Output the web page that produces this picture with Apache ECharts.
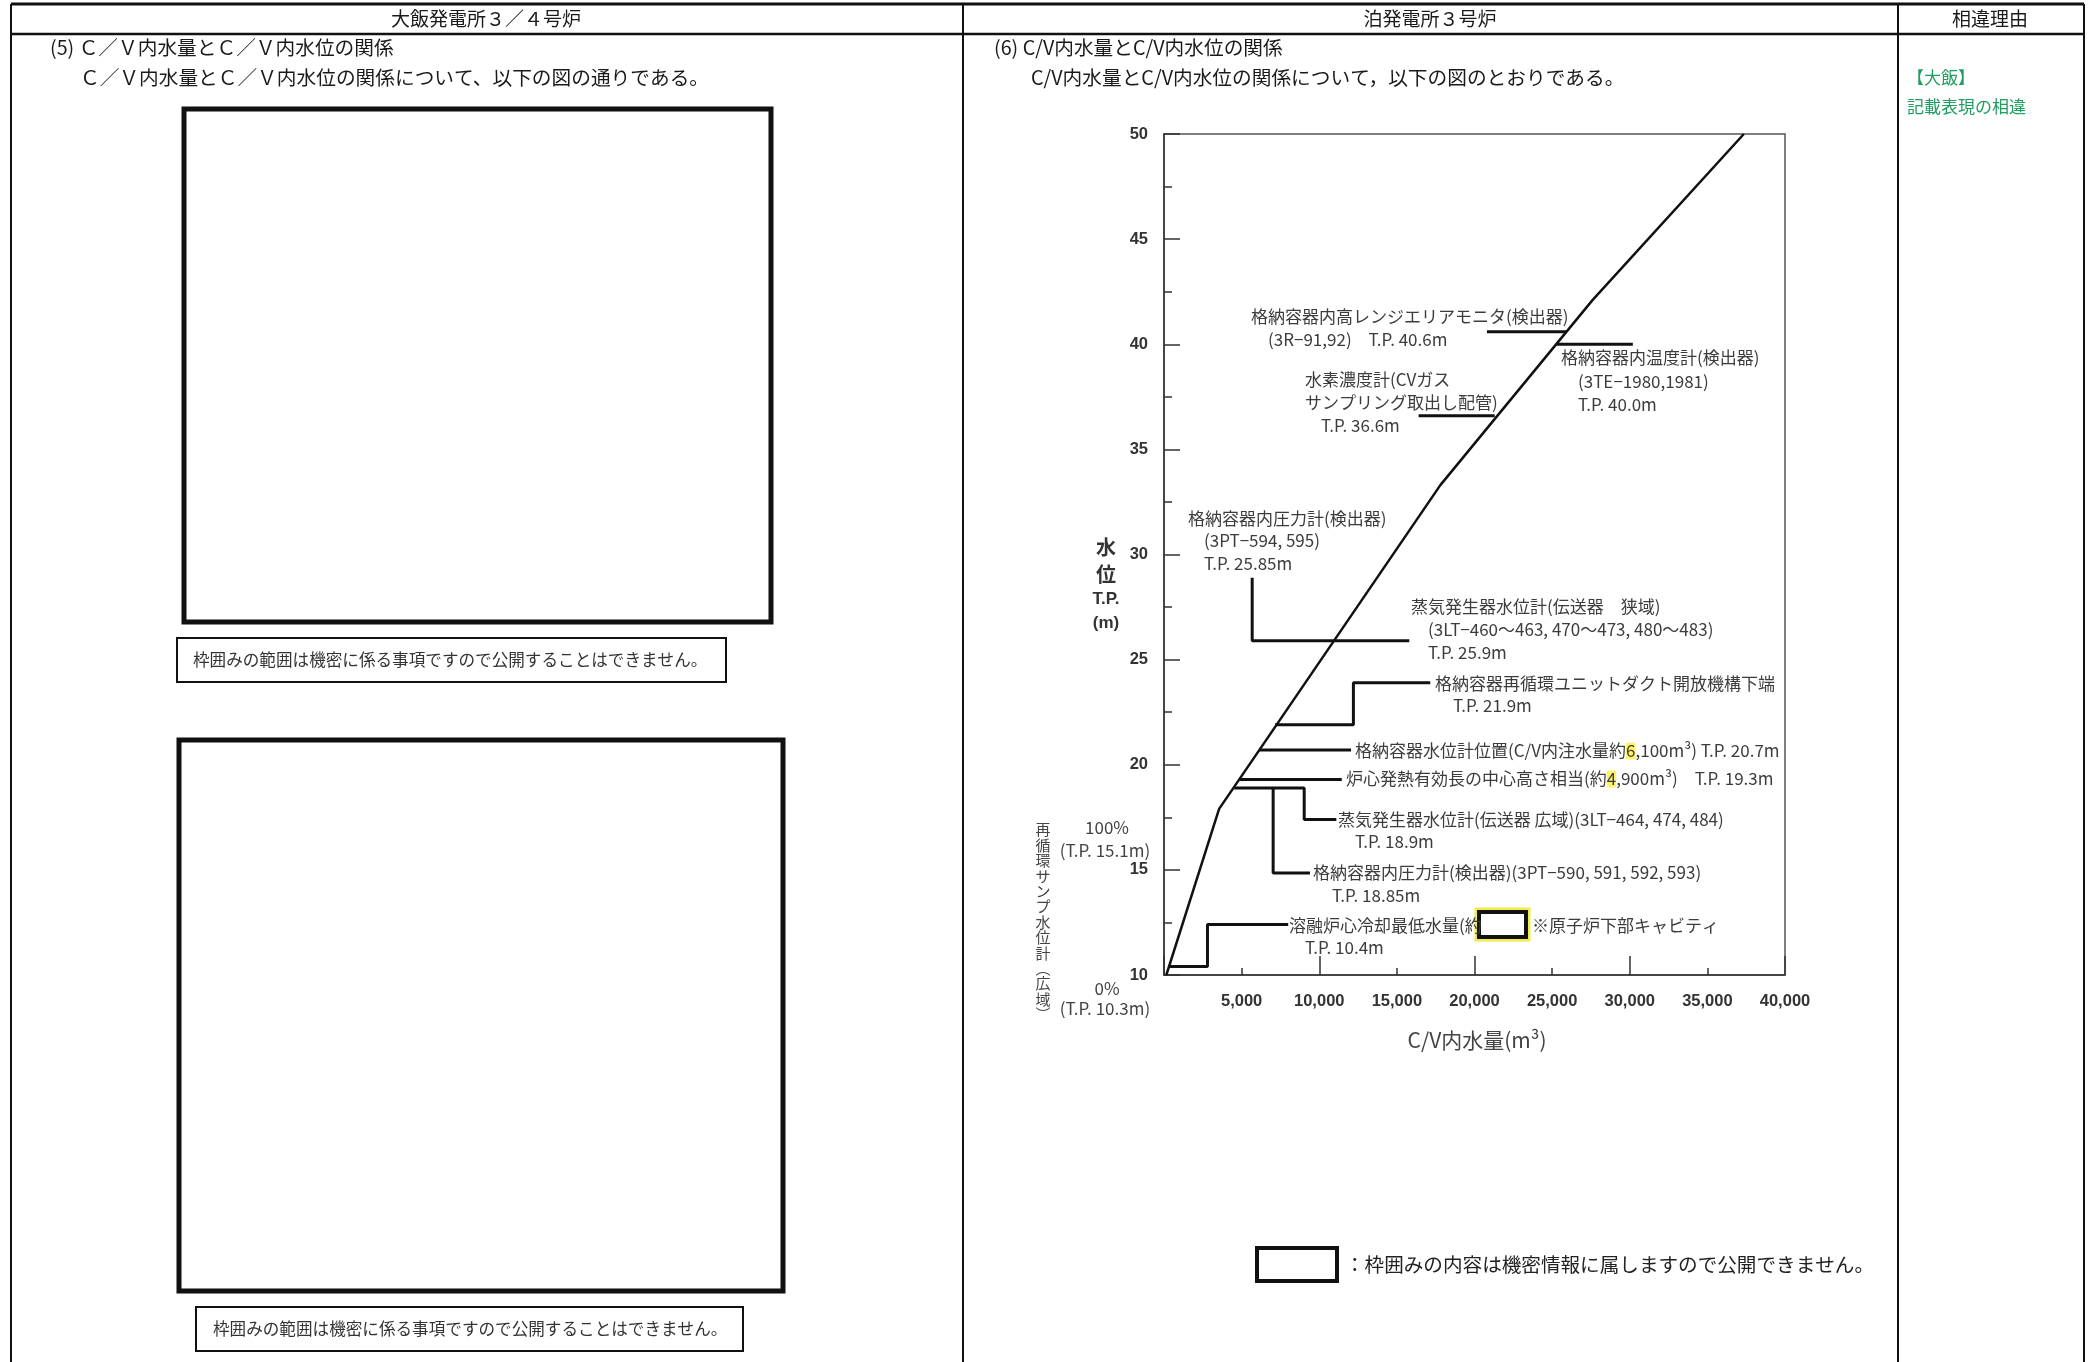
<!DOCTYPE html>
<html>
<head>
<meta charset="utf-8">
<script src="https://cdn.jsdelivr.net/npm/echarts@6/dist/echarts.min.js"></script>
<style>
  html, body { margin: 0; padding: 0; background: #fff; }
</style>
</head>
<body>
<div id="chart" style="width: 2092px; height: 1362px;"></div>
<script>
// C/V内水量(m3) と C/V内水位(T.P. m) の関係
const curveVolume = [150, 3550, 17800, 27600, 37350]
const curveLevel = [10, 17.9, 33.3, 42.1, 50]

// 計器位置を示す引出し線 [水量, 水位]
const leaderHighRange = [[20800, 40.6], [25900, 40.6]]
const leaderTemp = [[25300, 40.0], [30200, 40.0]]
const leaderHydrogen = [[16400, 36.6], [21300, 36.6]]
const leaderSgNarrow = [[5680, 28.9], [5680, 25.9], [15800, 25.9]]
const leaderDuct = [[7160, 21.9], [12200, 21.9], [12200, 23.9], [17150, 23.9]]
const leaderCvLevel = [[6130, 20.7], [12050, 20.7]]
const leaderCoreCenter = [[4850, 19.3], [11450, 19.3]]
const leaderSgWide = [[4520, 18.9], [9030, 18.9], [9030, 17.4], [11100, 17.4]]
const leaderPressure = [[7030, 18.9], [7030, 14.85], [9400, 14.85]]
const leaderMeltCore = [[300, 10.4], [2800, 10.4], [2800, 12.4], [8000, 12.4]]

// 再循環サンプ水位計(広域) 0%〜100%
const sumpRange = [[-4000, 15.1], [-4000, 10.3]]
const sumpTop = [[-5000, 15.1], [-3000, 15.1]]
const sumpBottom = [[-5000, 10.3], [-3000, 10.3]]

const xTickStep = 5000
const yTickStep = 5

const JP = '"Noto Sans CJK JP"'
const annoColor = '#3c3c3c'
const green = '#1f9e5f'

function txt (x, y, text, size, opts) {
  opts = opts || {}
  return {
    type: 'text',
    x: x,
    y: y,
    silent: true,
    style: {
      text: text,
      fill: opts.fill || '#1a1a1a',
      font: (opts.weight || 'normal') + ' ' + size + 'px ' + (opts.family || JP),
      textAlign: opts.align || 'left',
      textVerticalAlign: 'middle',
      lineHeight: opts.lineHeight,
      rich: opts.rich
    }
  }
}
function hline (x1, y1, x2, y2, w) {
  return { type: 'line', silent: true, shape: { x1: x1, y1: y1, x2: x2, y2: y2 }, style: { stroke: '#111', lineWidth: w } }
}
function box (x, y, w, h, lw, stroke) {
  return { type: 'rect', silent: true, shape: { x: x, y: y, width: w, height: h }, style: { fill: '#fff', stroke: stroke || '#111', lineWidth: lw } }
}

const hl = { h: { backgroundColor: '#fff36b', fontSize: 17, fontFamily: 'Noto Sans CJK JP', color: annoColor } }

const annotations = [
  [1251, 317, '格納容器内高レンジエリアモニタ(検出器)'],
  [1268, 340, '(3R−91,92)　T.P. 40.6m'],
  [1561, 358, '格納容器内温度計(検出器)'],
  [1578, 382, '(3TE−1980,1981)'],
  [1578, 405, 'T.P. 40.0m'],
  [1305, 380, '水素濃度計(CVガス'],
  [1305, 403, 'サンプリング取出し配管)'],
  [1321, 426, 'T.P. 36.6m'],
  [1188, 519, '格納容器内圧力計(検出器)'],
  [1204, 541, '(3PT−594, 595)'],
  [1204, 564, 'T.P. 25.85m'],
  [1411, 607, '蒸気発生器水位計(伝送器　狭域)'],
  [1428, 630, '(3LT−460〜463, 470〜473, 480〜483)'],
  [1428, 653, 'T.P. 25.9m'],
  [1435, 684, '格納容器再循環ユニットダクト開放機構下端'],
  [1453, 706, 'T.P. 21.9m'],
  [1355, 751, '格納容器水位計位置(C/V内注水量約{h|6},100m³) T.P. 20.7m'],
  [1346, 779, '炉心発熱有効長の中心高さ相当(約{h|4},900m³)　T.P. 19.3m'],
  [1338, 820, '蒸気発生器水位計(伝送器 広域)(3LT−464, 474, 484)'],
  [1355, 842, 'T.P. 18.9m'],
  [1313, 873, '格納容器内圧力計(検出器)(3PT−590, 591, 592, 593)'],
  [1332, 896, 'T.P. 18.85m'],
  [1289, 926, '溶融炉心冷却最低水量(約'],
  [1532, 926, '※原子炉下部キャビティ'],
  [1305, 948, 'T.P. 10.4m']
]

const richGreen = { g: { color: green, fontSize: 19.7, fontFamily: 'Noto Sans CJK JP' } }

const graphics = [
  // 表の罫線
  hline(11, 4, 2084, 4, 3),
  hline(11, 34, 2084, 34, 2.5),
  hline(11, 4, 11, 1362, 2),
  hline(963, 4, 963, 1362, 2),
  hline(1898, 4, 1898, 1362, 2),
  hline(2084, 4, 2084, 1362, 2),
  txt(486, 19, '大飯発電所３／４号炉', 19, { align: 'center' }),
  txt(1430, 19, '泊発電所３号炉', 19, { align: 'center' }),
  txt(1990, 19, '相違理由', 19, { align: 'center' }),
  txt(50, 48, '(5) Ｃ／Ｖ内水量とＣ／Ｖ内水位の関係', 19.7),
  txt(80, 78, 'Ｃ／Ｖ内水量とＣ／Ｖ内水位の関係について、以下の図の{g|通り}である。', 19.7, { rich: richGreen }),
  txt(994, 48, '(6) C/V内水量とC/V内水位の関係', 19.7),
  txt(1031, 78, 'C/V内水量とC/V内水位の関係について，以下の図の{g|とおり}である。', 19.7, { rich: richGreen }),
  txt(1907, 78, '【大飯】', 17, { fill: green }),
  txt(1907, 107, '記載表現の相違', 17, { fill: green }),
  // 大飯側の枠囲み
  box(184, 109, 587, 513, 5),
  box(177, 638, 549, 44, 2),
  txt(193, 660, '枠囲みの範囲は機密に係る事項ですので公開することはできません。', 16.6, { fill: '#333' }),
  box(179, 740, 604, 551, 5),
  box(196, 1307, 547, 44, 2),
  txt(213, 1329, '枠囲みの範囲は機密に係る事項ですので公開することはできません。', 16.6, { fill: '#333' }),
  // 軸名
  txt(1106, 547, '水', 20, { align: 'center', weight: 'bold', fill: '#333' }),
  txt(1106, 574, '位', 20, { align: 'center', weight: 'bold', fill: '#333' }),
  txt(1106, 599, 'T.P.', 17, { align: 'center', weight: 'bold', fill: '#333', family: '"Liberation Sans"' }),
  txt(1106, 623, '(m)', 17, { align: 'center', weight: 'bold', fill: '#333', family: '"Liberation Sans"' }),
  txt(1477, 1040, 'C/V内水量(m³)', 21, { align: 'center', fill: '#444' }),
  // 再循環サンプ水位計
  txt(1043, 922, '再\n循\n環\nサ\nン\nプ\n水\n位\n計\n︵\n広\n域\n︶', 15, { align: 'center', fill: '#444', lineHeight: 15.4 }),
  txt(1107, 828, '100%', 17, { align: 'center', fill: '#444' }),
  txt(1105, 851, '(T.P. 15.1m)', 17, { align: 'center', fill: '#444' }),
  txt(1107, 989, '0%', 17, { align: 'center', fill: '#444' }),
  txt(1105, 1009, '(T.P. 10.3m)', 17, { align: 'center', fill: '#444' }),
  // 機密の枠
  box(1476, 909, 53, 31, 3, '#f2ec4a'),
  box(1479, 912, 47, 25, 4),
  box(1257, 1248, 80, 33, 4),
  txt(1345, 1265, '：枠囲みの内容は機密情報に属しますので公開できません。', 19.6, { fill: '#222' })
]

annotations.forEach(function (a) {
  graphics.push(txt(a[0], a[1], a[2], 17, { fill: annoColor, rich: hl }))
})

function leader (data, extra) {
  return Object.assign({
    type: 'line',
    data: data,
    symbol: 'none',
    silent: true,
    lineStyle: { color: '#111', width: 3 }
  }, extra || {})
}

const myChart = echarts.init(document.getElementById('chart'))
myChart.setOption({
  animation: false,
  backgroundColor: '#fff',
  grid: {
    left: 1164,
    top: 134,
    width: 621,
    height: 841,
    show: true,
    borderColor: '#555',
    borderWidth: 1.5,
    containLabel: false
  },
  xAxis: [
    {
      type: 'value',
      min: 0,
      max: 40000,
      interval: xTickStep,
      position: 'bottom',
      axisLine: { show: true, lineStyle: { color: '#333', width: 1.5 } },
      axisTick: { show: true, inside: true, length: 7, lineStyle: { color: '#333', width: 1.5 } },
      axisLabel: {
        margin: 18,
        color: '#333',
        fontSize: 16.5,
        fontWeight: 'bold',
        fontFamily: 'Liberation Sans',
        formatter: function (v) { return v === 0 ? '' : v.toLocaleString('en-US') }
      },
      splitLine: { show: false }
    },
    {
      type: 'value',
      min: 0,
      max: 40000,
      interval: xTickStep * 2,
      position: 'bottom',
      axisLine: { show: false },
      axisTick: { show: true, inside: true, length: 19, lineStyle: { color: '#333', width: 1.5 } },
      axisLabel: { show: false },
      splitLine: { show: false }
    }
  ],
  yAxis: {
    type: 'value',
    min: 10,
    max: 50,
    interval: yTickStep,
    axisLine: { show: true, lineStyle: { color: '#333', width: 1.5 } },
    axisTick: { show: true, inside: true, length: 16, lineStyle: { color: '#333', width: 1.5 } },
    minorTick: { show: true, splitNumber: 2, length: 8, lineStyle: { color: '#333', width: 1.5 } },
    axisLabel: {
      margin: 16,
      color: '#333',
      fontSize: 16.5,
      fontWeight: 'bold',
      fontFamily: 'Liberation Sans'
    },
    splitLine: { show: false }
  },
  series: [
    leader(curveVolume.map(function (v, i) { return [v, curveLevel[i]] }), { lineStyle: { color: '#111', width: 2.5 } }),
    leader(leaderHighRange),
    leader(leaderTemp),
    leader(leaderHydrogen),
    leader(leaderSgNarrow),
    leader(leaderDuct),
    leader(leaderCvLevel),
    leader(leaderCoreCenter),
    leader(leaderSgWide),
    leader(leaderPressure),
    leader(leaderMeltCore),
    leader(sumpRange, { clip: false }),
    leader(sumpTop, { clip: false }),
    leader(sumpBottom, { clip: false })
  ],
  graphic: graphics
})
</script>
</body>
</html>
